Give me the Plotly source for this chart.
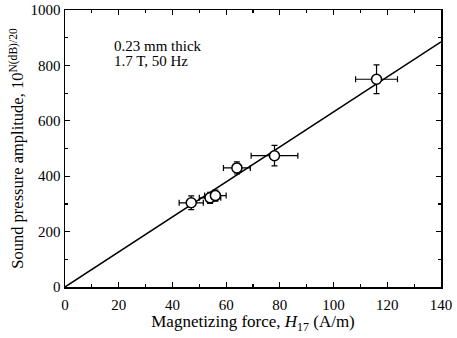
import plotly.graph_objects as go

# Data
h17 = [47, 54, 56, 64, 78, 116]
amp = [304, 322, 330, 430, 474, 750]
h_err = [4.5, 4, 4, 5, 8.7, 7.8]
amp_err = [25, 20, 20, 22, 37, 52]

fit_x = [0, 140]
fit_y = [0, 885]

x_ticks = [0, 20, 40, 60, 80, 100, 120, 140]
y_ticks = [0, 200, 400, 600, 800, 1000]

note_lines = ["0.23 mm thick", "1.7 T, 50 Hz"]
note_y = [870, 816]

FONT = "Liberation Serif"

fig = go.Figure()
fig.add_trace(go.Scatter(x=fit_x, y=fit_y, mode="lines",
                         line=dict(color="black", width=1.5), showlegend=False))
fig.add_trace(go.Scatter(
    x=h17, y=amp, mode="markers",
    marker=dict(symbol="circle", size=10, color="white",
                line=dict(color="black", width=1.5)),
    error_x=dict(type="data", array=h_err, color="black", thickness=1.2, width=3),
    error_y=dict(type="data", array=amp_err, color="black", thickness=1.2, width=3),
    showlegend=False))

for txt, yy in zip(note_lines, note_y):
    fig.add_annotation(x=18, y=yy, xref="x", yref="y", xanchor="left", yanchor="middle",
                       text=txt, showarrow=False, align="left", borderpad=0,
                       font=dict(family=FONT, size=15, color="black"))

axis_common = dict(showline=True, linecolor="black", linewidth=1.5, mirror="allticks",
                   ticks="inside", ticklen=5, tickcolor="black", tickwidth=1.2,
                   showgrid=False, zeroline=False, automargin=False,
                   ticklabeloverflow="allow",
                   tickfont=dict(family=FONT, size=15, color="black"))

fig.update_xaxes(range=[0, 140], tickvals=x_ticks, ticklabelstandoff=3,
                 minor=dict(ticks="inside", dtick=10, ticklen=3, tickcolor="black", showgrid=False),
                 title=dict(text="Magnetizing force, <i>H</i><sub>17</sub> (A/m)",
                            font=dict(family=FONT, size=17, color="black"), standoff=1),
                 **axis_common)
fig.update_yaxes(range=[0, 1000], tickvals=y_ticks,
                 minor=dict(ticks="inside", dtick=100, ticklen=3, tickcolor="black", showgrid=False),
                 title=dict(text="Sound pressure amplitude, 10<sup>N(dB)/20</sup>",
                            font=dict(family=FONT, size=16.5, color="black"), standoff=2),
                 **axis_common)

fig.update_layout(width=457, height=338, margin=dict(l=65, r=16, t=10, b=51),
                  paper_bgcolor="white", plot_bgcolor="white")

# remove the default page margin so the figure fills the window exactly
fig.write_html("out.html", config={"displayModeBar": False, "staticPlot": True},
               post_script="document.body.style.margin='0';")
